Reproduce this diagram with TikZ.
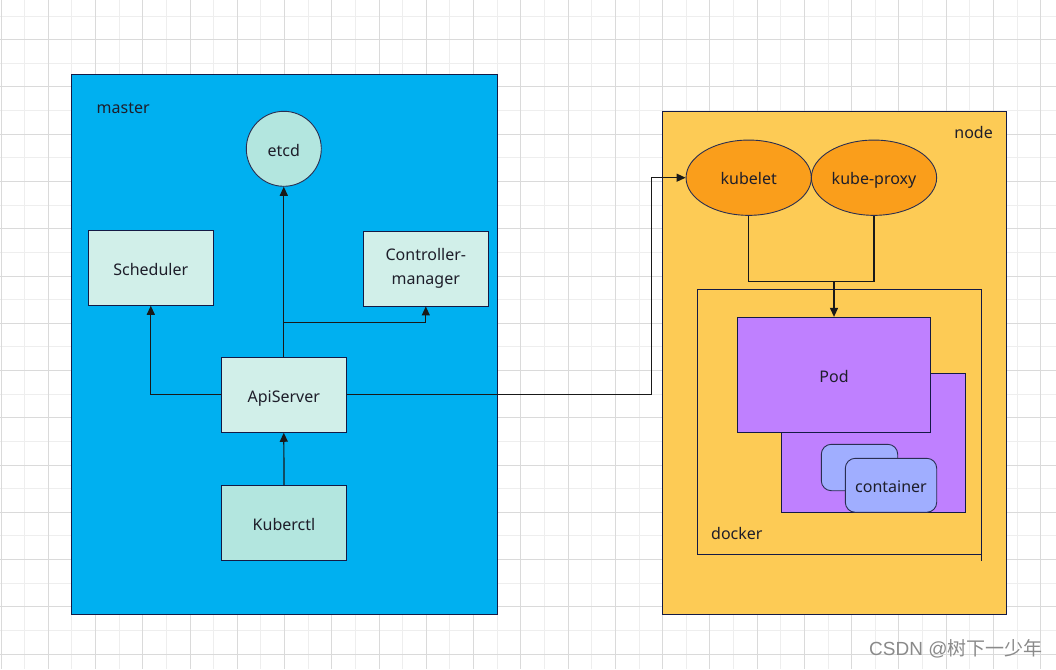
\documentclass[tikz,border=0pt]{standalone}
\usepackage{fontspec}
\setmainfont{Noto Sans}
\newfontfamily\wmfont{Liberation Sans}
\newfontfamily\cjk{Noto Sans CJK SC}
\usetikzlibrary{shapes.geometric,arrows.meta,calc}
\definecolor{gridlight}{HTML}{EEEEEE}
\definecolor{griddark}{HTML}{DADADA}
\definecolor{masterblue}{HTML}{00B0F0}
\definecolor{nodeyellow}{HTML}{FDCB55}
\definecolor{orangefill}{HTML}{FA9E1B}
\definecolor{podpurple}{HTML}{BF80FF}
\definecolor{ctrblue}{HTML}{A0AEFF}
\definecolor{tealA}{HTML}{D1EFE9}
\definecolor{tealB}{HTML}{B3E6DF}
\definecolor{navy}{HTML}{141A45}
\definecolor{ink}{HTML}{1E1E2A}
\definecolor{wmgray}{HTML}{8A8A8A}
\tikzset{
  txt/.style={font=\fontsize{16}{24.5}\selectfont, text=ink},
  oneline/.style={text height=15.5pt, text depth=1pt},
  box/.style={txt, draw=navy, line width=0.9pt, minimum width=125pt, minimum height=75pt, inner sep=0pt, align=center},
  oval/.style={txt, oneline, ellipse, draw=navy!80!gray, line width=0.9pt, minimum width=125.3pt, minimum height=75.3pt, inner sep=0pt, fill=orangefill},
  region/.style={draw=navy, line width=1pt, inner sep=0pt},
  ctrbox/.style={txt, draw=navy!80!gray, line width=0.9pt, fill=ctrblue, rounded corners=10pt, inner sep=0pt},
  conn/.style={draw=black!90, line width=1.2pt, -{Triangle[length=9pt,width=8pt]}},
  plain/.style={draw=black!90, line width=1.2pt},
  label/.style={txt, inner sep=0pt}
}
\begin{document}
\begin{tikzpicture}[x=1pt,y=-1pt]
\useasboundingbox (0,0) rectangle (1056,669);
\fill[white] (0,0) rectangle (1056,669);
% grid
\foreach \k in {1,3,...,43} { \draw[gridlight, line width=0.8pt] ({0.9+23.63*\k},0) -- ({0.9+23.63*\k},669); }
\foreach \k in {0,2,...,26} { \draw[gridlight, line width=0.8pt] (0,{16+23.63*\k}) -- (1056,{16+23.63*\k}); }
\foreach \k in {0,2,...,44} { \draw[griddark, line width=0.8pt] ({0.9+23.63*\k},0) -- ({0.9+23.63*\k},669); }
\foreach \k in {1,3,...,27} { \draw[griddark, line width=0.8pt] (0,{16+23.63*\k}) -- (1056,{16+23.63*\k}); }

% master region
\node[region, fill=masterblue, minimum width=426pt, minimum height=539.3pt] (master) at (284.3,344.35) {};
\node[label, anchor=west] (masterlbl) at (96.5,108.5) {master};

% node region
\node[region, fill=nodeyellow, minimum width=344.4pt, minimum height=502.3pt] (noderegion) at (834.5,362.85) {};
\node[label, anchor=east] (nodelbl) at (993,132.5) {node};

% master components
\node[circle, txt, oneline, draw=navy!80!gray, line width=0.9pt, fill=tealB, minimum size=75pt, inner sep=0pt] (etcd) at (283.8,148.8) {etcd};
\node[box, oneline, fill=tealA] (sched) at (150.8,267.8) {Scheduler};
\node[box, fill=tealA] (cm) at (425.8,268.5) {Controller-\\manager};
\node[box, oneline, fill=tealA] (api) at (283.8,394.8) {ApiServer};
\node[box, oneline, fill=tealB] (kctl) at (284,522.8) {Kuberctl};

% node components
\node[oval] (kubelet) at (748.7,177.7) {kubelet};
\node[oval] (kubeproxy) at (874,177.7) {kube-proxy};
\node[draw=navy, line width=1pt, minimum width=284pt, minimum height=265pt, inner sep=0pt] (docker) at (839.3,421.8) {};
\draw[draw=navy, line width=1pt] (docker.south east) -- ++(0,5.7);
\node[label, anchor=west] (dockerlbl) at (711,533.5) {docker};
\node[draw=navy, line width=0.9pt, fill=podpurple, minimum width=184pt, minimum height=139pt, inner sep=0pt] (podback) at (873.7,442.8) {};
\node[box, oneline, fill=podpurple, minimum width=193.4pt, minimum height=115pt] (pod) at (834,374.8) {Pod};
\node[ctrbox, minimum width=76.4pt, minimum height=46.4pt] (ctrback) at (859.5,467.5) {};
\node[ctrbox, oneline, minimum width=91.4pt, minimum height=54pt] (ctr) at (891,485.3) {container};

% connectors
\draw[conn] (api.north) -- (etcd.south);
\coordinate (jcm) at (283.8,322.3);
\draw[conn] (jcm) -| (cm.south);
\draw[conn] (api.west) -| (sched.south);
\draw[conn] (kctl.north) -- (api.south);
\coordinate (bend) at (651.3,394.8);
\draw[conn] (api.east) -- (bend) |- (kubelet.west);
\coordinate (jn) at (834,281.3);
\draw[plain] (kubelet.south) |- (jn) -| (kubeproxy.south);
\draw[conn] (jn) -- (pod.north);

% watermark
\node[inner sep=0pt, anchor=west, text=wmgray, font=\fontsize{19}{21}\selectfont] (wm) at (869,649) {\wmfont CSDN @\cjk 树下一少年};
\end{tikzpicture}
\end{document}
